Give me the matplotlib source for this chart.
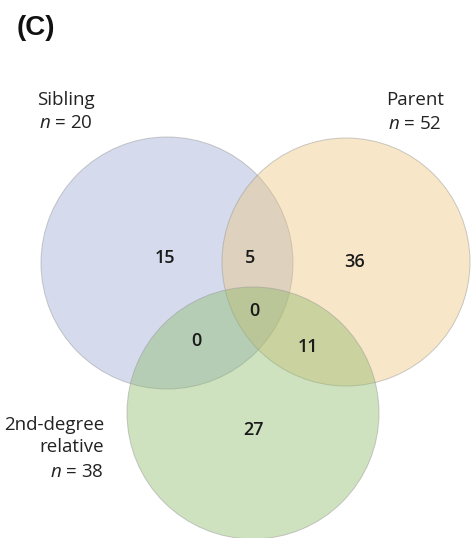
import matplotlib.pyplot as plt
from matplotlib.patches import Circle

plt.rcParams['mathtext.fontset'] = 'custom'
plt.rcParams['mathtext.it'] = 'Open Sans:italic'

# set names, group sizes and region counts
set_names = ['Sibling', 'Parent', '2nd-degree\nrelative']
set_sizes = [20, 52, 38]
region_keys = ['S', 'SP', 'P', 'SPR', 'SR', 'PR', 'R']
region_counts = [15, 5, 36, 0, 0, 11, 27]

fig = plt.figure(figsize=(4.71, 5.38), dpi=100)
ax = fig.add_axes([0, 0, 1, 1])
ax.set_xlim(0, 471)
ax.set_ylim(538, 0)
ax.set_aspect('equal')
ax.axis('off')

# circles: centre x, centre y, radius, fill colour
circles = [
    (167, 263, 126, (150/255, 165/255, 212/255)),
    (346, 262, 124, (237/255, 195/255, 118/255)),
    (253, 413, 126, (135/255, 183/255, 98/255)),
]
for cx, cy, r, col in circles:
    ax.add_patch(Circle((cx, cy), r, facecolor=col, alpha=0.4,
                        edgecolor='none'))
    ax.add_patch(Circle((cx, cy), r, facecolor='none',
                        edgecolor=(0.6, 0.6, 0.6), lw=0.7, alpha=0.5))

# region count positions
region_pos = {
    'S': (165, 258), 'SP': (250, 258), 'P': (355, 262),
    'SPR': (254, 311), 'SR': (196, 341), 'PR': (308, 347), 'R': (254, 430),
}
for key, count in zip(region_keys, region_counts):
    x, y = region_pos[key]
    ax.text(x, y, str(count), ha='center', va='center', fontsize=13,
            fontweight='semibold', family='Open Sans', color='#1a1a1a')

lab = dict(family='Open Sans', fontsize=13.5, color='#222222')

# set labels with group size
ax.text(37, 100, set_names[0], ha='left', va='center', **lab)
ax.text(39, 123, f'$n$ = {set_sizes[0]}', ha='left', va='center', **lab)

ax.text(444, 100, set_names[1], ha='right', va='center', **lab)
ax.text(442, 124, f'$n$ = {set_sizes[1]}', ha='right', va='center', **lab)

ax.text(104, 436, set_names[2], ha='right', va='center',
        linespacing=1.3, **lab)
ax.text(104, 472, f'$n$ = {set_sizes[2]}', ha='right', va='center', **lab)

ax.text(17, 28, '(C)', ha='left', va='center', fontsize=20,
        fontweight='bold', family='Liberation Sans', color='#111111')

fig.savefig('out.png', dpi=100)
